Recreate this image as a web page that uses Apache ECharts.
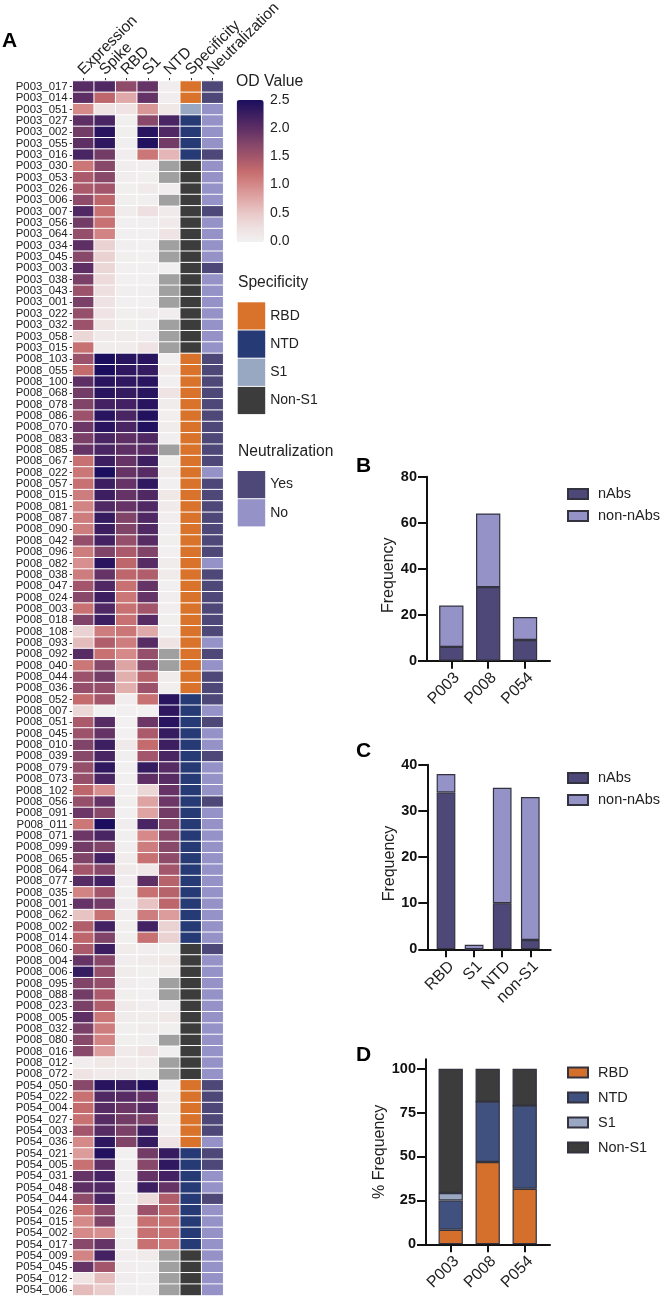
<!DOCTYPE html>
<html>
<head>
<meta charset="utf-8">
<style>html,body{margin:0;padding:0;background:#fff}#c{width:663px;height:1297px}</style>
<script src="https://cdn.jsdelivr.net/npm/echarts@6/dist/echarts.min.js"></script>
</head>
<body>
<div id="c"></div>
<script>
const heatColumns = ['Expression','Spike','RBD','S1','NTD','Specificity','Neutralization'];
const antibodies = [
'P003_017','P003_014','P003_051','P003_027','P003_002','P003_055','P003_016','P003_030','P003_053','P003_026','P003_006','P003_007','P003_056','P003_064','P003_034','P003_045','P003_003','P003_038','P003_043','P003_001','P003_022','P003_032','P003_058','P003_015',
'P008_103','P008_055','P008_100','P008_068','P008_078','P008_086','P008_070','P008_083','P008_085','P008_067','P008_022','P008_057','P008_015','P008_081','P008_087','P008_090','P008_042','P008_096','P008_082','P008_038','P008_047','P008_024','P008_003','P008_018','P008_108','P008_093','P008_092','P008_040','P008_044','P008_036',
'P008_052','P008_007','P008_051','P008_045','P008_010','P008_039','P008_079','P008_073','P008_102','P008_056','P008_091','P008_011','P008_071','P008_099','P008_065','P008_064','P008_077','P008_035','P008_001','P008_062','P008_002','P008_014',
'P008_060','P008_004','P008_006','P008_095','P008_088','P008_023','P008_005','P008_032','P008_080','P008_016','P008_012','P008_072',
'P054_050','P054_022','P054_004','P054_027','P054_003','P054_036','P054_021','P054_005','P054_031','P054_048','P054_044','P054_026','P054_015','P054_002','P054_017','P054_009','P054_045','P054_012','P054_006'];
const expression = [
2.05,2.0,1.0,2.0,1.85,2.0,2.15,1.15,1.45,1.45,1.65,2.1,1.85,1.6,2.0,1.7,2.0,1.8,1.55,1.8,1.6,1.55,.35,1.2,
1.55,1.25,2.0,1.85,1.75,1.55,1.9,1.8,1.95,1.2,1.15,1.2,1.1,1.05,1.1,1.1,1.6,1.1,.95,1.1,1.5,1.7,1.2,1.75,.4,.6,2.05,1.15,1.55,1.6,
1.25,.35,1.45,1.55,1.75,1.7,1.6,1.6,1.3,1.6,1.9,1.15,1.9,1.85,1.75,1.5,2.05,1.05,1.95,.55,1.4,1.3,
1.45,1.95,2.3,1.75,1.85,1.8,2.0,1.8,1.7,1.7,.07,.2,
1.7,1.2,1.25,1.2,1.5,1.0,.85,1.2,1.95,2.0,1.65,1.2,1.0,1.0,1.7,1.05,1.95,.2,.6];
const spike = [
2.1,1.3,.2,2.15,2.4,2.35,1.85,1.7,1.7,1.5,1.3,1.2,1.2,1.05,.4,.4,.35,.3,.25,.22,.2,.18,.1,.08,
2.5,2.5,2.4,2.4,2.2,2.4,2.4,2.15,2.15,2.25,2.5,2.25,2.25,2.1,2.3,2.25,2.2,1.75,2.4,1.95,2.1,2.25,2.1,2.25,1.1,1.4,1.2,1.7,1.85,1.6,
1.5,.02,2.05,1.95,2.25,2.15,2.35,2.15,.95,1.95,1.7,2.5,2.15,1.75,2.2,1.7,2.2,1.5,1.85,1.2,2.2,1.75,
2.25,1.7,1.6,1.6,1.45,1.4,1.15,1.1,1.05,.85,.15,.1,
2.4,2.1,2.05,2.05,2.05,2.35,2.45,2.0,2.2,2.1,2.15,1.7,1.75,.95,1.95,2.2,1.5,.6,.45];
const rbd = [
1.65,.75,.2,.05,.05,.04,.06,.07,.06,.05,.05,.08,.03,.03,.04,.05,.03,.03,.04,.03,.05,.05,.08,.08,
2.4,2.35,2.35,2.3,2.2,2.15,2.15,2.0,2.0,1.95,1.95,1.95,1.95,1.95,1.75,1.75,1.6,1.45,1.3,1.3,1.2,1.15,1.2,1.2,1.15,1.1,1.0,.8,.7,.7,
.07,.03,.02,.02,.12,.04,.03,.03,.03,.05,.03,.07,.04,.04,.08,.1,.07,.04,.07,.05,.05,.05,
.08,.07,.08,.07,.05,.1,.08,.05,.05,.1,.09,.1,
2.3,2.05,1.9,1.85,1.8,1.75,.03,.03,.04,.03,.04,.04,.03,.03,.04,.07,.07,.07,.04];
const s1 = [
1.95,1.95,.9,1.7,2.4,2.45,1.15,.07,.05,.1,.04,.25,.04,.03,.03,.03,.03,.03,.04,.03,.07,.04,.07,.2,
2.4,2.3,2.4,2.4,2.4,2.45,2.45,2.1,2.05,2.25,2.05,2.35,2.1,2.1,2.1,2.1,2.05,1.75,2.05,1.4,1.95,1.95,1.5,2.05,.75,2.05,1.6,1.7,1.35,1.55,
1.2,.02,1.9,1.45,1.25,1.5,2.3,2.0,.35,.8,.8,2.15,1.0,1.1,1.2,.15,2.0,1.2,.55,1.1,2.2,1.2,
.06,.1,.05,.03,.03,.06,.08,.08,.04,.2,.09,.05,
2.45,1.95,2.05,1.8,2.25,2.3,1.85,1.7,1.95,2.25,.3,1.55,1.2,1.2,1.2,.1,.04,.03,.03];
const ntd = [
.07,.07,.15,2.15,2.1,1.85,.65,null,null,.07,null,.1,.1,.2,null,null,.03,null,null,null,.07,null,null,null,
.03,.1,.03,.2,.08,.05,.08,.04,null,.05,.1,.03,.15,.1,.06,.04,.05,.03,.08,.1,.03,.07,.06,.05,.04,.2,null,null,.08,.05,
2.4,2.35,2.4,2.3,2.25,2.15,2.05,2.05,1.95,1.9,1.85,1.75,1.7,1.7,1.65,1.5,1.35,1.35,1.3,.85,.4,.4,
.05,.15,.08,null,null,.04,.15,.05,null,.04,null,null,
.03,.08,.08,.05,.07,.2,2.3,2.35,2.2,1.95,1.4,1.3,1.2,1.2,1.15,null,null,null,null];
// 0 RBD, 1 NTD, 2 S1, 3 Non-S1
const specificity = [
0,0,2,1,1,1,1,3,3,3,3,3,3,3,3,3,3,3,3,3,3,3,3,3,
0,0,0,0,0,0,0,0,0,0,0,0,0,0,0,0,0,0,0,0,0,0,0,0,0,0,0,0,0,0,
1,1,1,1,1,1,1,1,1,1,1,1,1,1,1,1,1,1,1,1,1,1,
3,3,3,3,3,3,3,3,3,3,3,3,
0,0,0,0,0,0,1,1,1,1,1,1,1,1,1,3,3,3,3];
// 1 Yes, 0 No
const neutralization = [
1,1,0,0,0,0,1,0,0,0,0,1,0,0,0,0,1,0,0,0,0,0,0,0,
1,1,1,1,1,1,1,1,1,1,0,1,1,1,1,1,1,1,0,1,1,1,1,1,1,0,1,0,1,1,
1,0,1,0,0,1,0,0,0,1,0,0,0,0,0,0,0,0,0,0,0,0,
1,0,0,0,0,0,0,0,0,0,0,0,
1,1,1,1,1,0,1,1,0,0,1,0,0,0,0,0,0,0,0];
const specificityNames = ['RBD','NTD','S1','Non-S1'];
const neutralizationNames = ['Yes','No'];
const odTicks = ['2.5','2.0','1.5','1.0','0.5','0.0'];

const donors = ['P003','P008','P054'];
const nAbsByDonor = [6,32,9];
const nonNAbsByDonor = [18,32,10];
const targets = ['RBD','S1','NTD','non-S1'];
const nAbsByTarget = [34,0,10,2];
const nonNAbsByTarget = [4,1,25,31];
const pctRBD = [8.3,46.9,31.6];
const pctNTD = [16.7,34.4,47.4];
const pctS1 = [4.2,0,0];
const pctNonS1 = [70.8,18.7,21];

const FONT = '"Liberation Sans", Arial, sans-serif';
const odColors = ['#f2f1f2','#eee0e0','#e9c9c9','#e0a9a9','#d58989','#c46b6d','#a3566b','#814469','#5e2f65','#3c1e61','#1b0e5e'];
const C_YES = '#4e4878', C_NO = '#9492c6';
const C_RBD = '#d9722a', C_NTD = '#263a76', C_S1 = '#98a7c2', C_NON = '#3c3c3c';
const BAR_BORDER = '#33333f';
const AXIS_COLOR = '#111';

const odData = [];
const naData = [];
[expression, spike, rbd, s1, ntd].forEach((col, x) => col.forEach((v, y) => {
  if (v === null) naData.push([x, y, 0]); else odData.push([x, y, v]);
}));
const specData = specificity.map((v, y) => [5, y, v]);
const neutData = neutralization.map((v, y) => [6, y, v]);
const cellStyle = {borderColor: '#fff', borderWidth: 1};

// Each bar panel has a plot grid (bars, category ticks) and a slightly wider frame grid (axis lines, y ticks).
function plotX(i, names) {
  return {
    type: 'category', gridIndex: i, data: names,
    axisLine: {show: false},
    axisTick: {show: true, length: 8, alignWithLabel: true, lineStyle: {color: AXIS_COLOR, width: 2}},
    axisLabel: {show: true, interval: 0, rotate: 45, margin: 9, verticalAlign: 'top', fontFamily: FONT, fontSize: 16, color: '#222'}
  };
}
function plotY(i, max) {
  return {type: 'value', gridIndex: i, min: 0, max, show: false, splitLine: {show: false}};
}
function frameX(i) {
  return {
    type: 'value', gridIndex: i, min: 0, max: 1, splitLine: {show: false},
    axisLine: {show: true, onZero: false, lineStyle: {color: AXIS_COLOR, width: 2}},
    axisTick: {show: false}, axisLabel: {show: false}
  };
}
function frameY(i, max, interval, name, ticks, pad) {
  return {
    type: 'value', gridIndex: i, min: 0, max, interval,
    name, nameLocation: 'middle', nameGap: 30,
    nameTextStyle: {fontFamily: FONT, fontSize: 16, color: '#222', padding: pad},
    splitLine: {show: false},
    axisLine: {show: true, onZero: false, lineStyle: {color: AXIS_COLOR, width: 2}},
    axisTick: {show: true, length: 9, lineStyle: {color: AXIS_COLOR, width: 2}, customValues: ticks},
    axisLabel: {show: true, margin: 10, fontFamily: FONT, fontSize: 14.5, fontWeight: 'bold', color: '#111', customValues: ticks}
  };
}
function barSeries(name, axis, stack, vals, color, width) {
  return {
    type: 'bar', name, xAxisIndex: axis, yAxisIndex: axis, stack, barWidth: width,
    data: vals, itemStyle: {color, borderColor: BAR_BORDER, borderWidth: 1.2}, silent: true
  };
}
function legend(left, top, gap, names) {
  return {
    show: true, orient: 'vertical', left, top, padding: 0, itemGap: gap,
    itemWidth: 20, itemHeight: 10, icon: 'rect', data: names,
    textStyle: {fontFamily: FONT, fontSize: 14.5, color: '#222', padding: [0, 0, 0, 5]},
    selectedMode: false
  };
}
function label(text, left, top, size, weight) {
  return {text, left, top, padding: 0, textStyle: {fontFamily: FONT, fontSize: size, fontWeight: weight, color: weight === 'bold' ? '#000' : '#222'}};
}

const option = {
  animation: false,
  backgroundColor: '#fff',
  title: [
    label('A', 2, 31, 21, 'bold'),
    label('B', 356, 456, 21, 'bold'),
    label('C', 356, 741, 21, 'bold'),
    label('D', 356, 1045, 21, 'bold'),
    label('OD Value', 236, 74, 15.8, 'normal'),
    label('Specificity', 238, 275, 15.6, 'normal'),
    label('Neutralization', 238, 444, 15.6, 'normal')
  ],
  grid: [
    {left: 72.7, top: 81, width: 150.5, height: 1214.5, outerBoundsMode: 'none'},
    {left: 432.9, top: 476.7, width: 110.55, height: 184, outerBoundsMode: 'none'},
    {left: 431.95, top: 764.7, width: 112.4, height: 184.6, outerBoundsMode: 'none'},
    {left: 432.2, top: 1059.3, width: 111, height: 185, outerBoundsMode: 'none'},
    {left: 427, top: 476.7, width: 123, height: 184, outerBoundsMode: 'none'},
    {left: 427.3, top: 764.7, width: 123.4, height: 184.6, outerBoundsMode: 'none'},
    {left: 426, top: 1059.3, width: 124, height: 185, outerBoundsMode: 'none'}
  ],
  xAxis: [
    {
      type: 'category', gridIndex: 0, data: heatColumns, position: 'top',
      axisLine: {show: false}, splitLine: {show: false},
      axisTick: {show: true, length: 3, alignWithLabel: true, lineStyle: {color: '#333', width: 1}},
      axisLabel: {show: true, interval: 0, rotate: -45, margin: 0, padding: [0, 0, 0, 4], verticalAlign: 'bottom', fontFamily: FONT, fontSize: 15.5, color: '#222'}
    },
    plotX(1, donors), plotX(2, targets), plotX(3, donors),
    frameX(4), frameX(5), frameX(6)
  ],
  yAxis: [
    {
      type: 'category', gridIndex: 0, data: antibodies, inverse: true,
      axisLine: {show: false}, splitLine: {show: false},
      axisTick: {show: true, length: 3, alignWithLabel: true, interval: 0, lineStyle: {color: '#333', width: 1}},
      axisLabel: {show: true, interval: 0, margin: 5, fontFamily: FONT, fontSize: 11.4, color: '#222'}
    },
    plotY(1, 80), plotY(2, 40), plotY(3, 105.35),
    frameY(4, 80, 20, 'Frequency', [0, 20, 40, 60, 80], [0, 13, 0, 0]),
    frameY(5, 40, 10, 'Frequency', [0, 10, 20, 30, 40], [0, 13, 0, 0]),
    frameY(6, 105.35, 25, '% Frequency', [0, 25, 50, 75, 100], [0, 0, 0, 0])
  ],
  legend: [
    legend(567, 486.5, 7, ['nAbs', 'non-nAbs']),
    legend(567, 770.5, 7, ['nAbs', 'non-nAbs']),
    legend(567, 1065, 10, ['RBD', 'NTD', 'S1', 'Non-S1'])
  ],
  visualMap: [
    {
      type: 'continuous', seriesIndex: 0, min: 0, max: 2.5, calculable: false, realtime: false,
      left: 236.7, top: 100, itemWidth: 27, itemHeight: 142, padding: 0, text: null, showLabel: false,
      inRange: {color: odColors}, hoverLink: false,
      textStyle: {fontSize: 0}
    },
    {
      type: 'piecewise', seriesIndex: 2, left: 237.7, top: 302.3, padding: 0,
      itemWidth: 27.5, itemHeight: 27.2, itemGap: 1, textGap: 5, itemSymbol: 'rect',
      orient: 'vertical', inverse: true, hoverLink: false, selectedMode: false,
      textStyle: {fontFamily: FONT, fontSize: 14, color: '#222'},
      pieces: [
        {value: 0, label: specificityNames[0], color: C_RBD},
        {value: 1, label: specificityNames[1], color: C_NTD},
        {value: 2, label: specificityNames[2], color: C_S1},
        {value: 3, label: specificityNames[3], color: C_NON}
      ]
    },
    {
      type: 'piecewise', seriesIndex: 3, left: 237.7, top: 471, padding: 0,
      itemWidth: 27.5, itemHeight: 27.2, itemGap: 1, textGap: 5, itemSymbol: 'rect',
      orient: 'vertical', hoverLink: false, selectedMode: false,
      textStyle: {fontFamily: FONT, fontSize: 14, color: '#222'},
      pieces: [
        {value: 1, label: neutralizationNames[0], color: C_YES},
        {value: 0, label: neutralizationNames[1], color: C_NO}
      ]
    }
  ],
  graphic: odTicks.map((t, i) => ({
    type: 'text', x: 270, y: 99.7 + i * 28.26,
    style: {text: t, fontFamily: FONT, fontSize: 14, fill: '#222', verticalAlign: 'middle', align: 'left'}
  })),
  series: [
    {type: 'heatmap', xAxisIndex: 0, yAxisIndex: 0, data: odData, itemStyle: cellStyle, silent: true},
    {type: 'heatmap', xAxisIndex: 0, yAxisIndex: 0, data: naData, itemStyle: Object.assign({color: '#a0a0a0'}, cellStyle), silent: true},
    {type: 'heatmap', xAxisIndex: 0, yAxisIndex: 0, data: specData, itemStyle: cellStyle, silent: true},
    {type: 'heatmap', xAxisIndex: 0, yAxisIndex: 0, data: neutData, itemStyle: cellStyle, silent: true},
    barSeries('nAbs', 1, 'b', nAbsByDonor, C_YES, 24.3),
    barSeries('non-nAbs', 1, 'b', nonNAbsByDonor, C_NO, 24.3),
    barSeries('nAbs', 2, 'c', nAbsByTarget, C_YES, 18.7),
    barSeries('non-nAbs', 2, 'c', nonNAbsByTarget, C_NO, 18.7),
    barSeries('RBD', 3, 'd', pctRBD, '#d5702c', 24.3),
    barSeries('NTD', 3, 'd', pctNTD, '#40507f', 24.3),
    barSeries('S1', 3, 'd', pctS1, '#9aa7c2', 24.3),
    barSeries('Non-S1', 3, 'd', pctNonS1, C_NON, 24.3)
  ]
};
const chart = echarts.init(document.getElementById('c'), null, {renderer: 'canvas'});
chart.setOption(option);
</script>
</body>
</html>
